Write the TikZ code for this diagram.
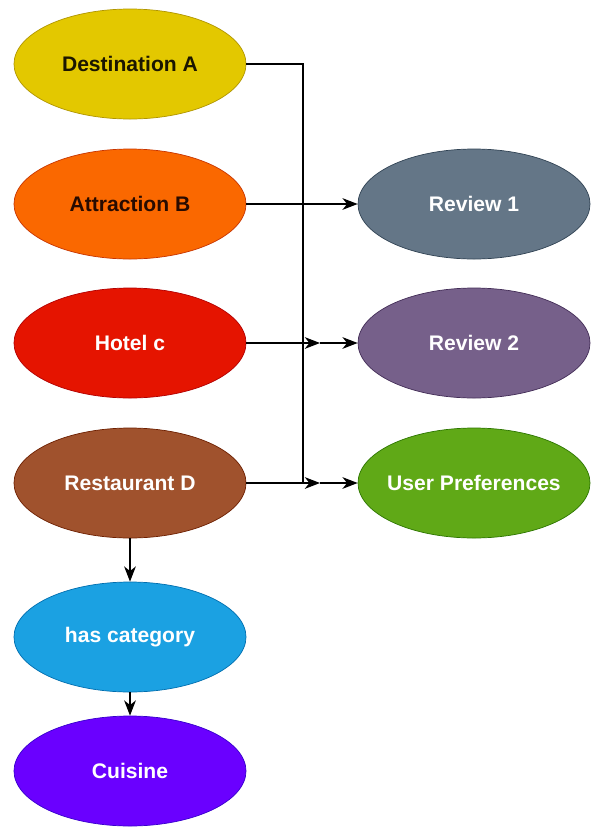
\documentclass[tikz,border=0pt]{standalone}
\usepackage{fontspec}
\setmainfont{Liberation Sans}
\usetikzlibrary{shapes,arrows.meta}

\definecolor{destfill}{HTML}{E3C800}\definecolor{destline}{HTML}{B09500}
\definecolor{attrfill}{HTML}{FA6800}\definecolor{attrline}{HTML}{C73500}
\definecolor{hotelfill}{HTML}{E51400}\definecolor{hotelline}{HTML}{B20000}
\definecolor{restfill}{HTML}{A0522D}\definecolor{restline}{HTML}{6D1F00}
\definecolor{revafill}{HTML}{647687}\definecolor{revaline}{HTML}{314354}
\definecolor{revbfill}{HTML}{76608A}\definecolor{revbline}{HTML}{432D57}
\definecolor{preffill}{HTML}{60A917}\definecolor{prefline}{HTML}{2D7600}
\definecolor{catfill}{HTML}{1BA1E2}\definecolor{catline}{HTML}{006EAF}
\definecolor{cuisfill}{HTML}{6A00FF}\definecolor{cuisline}{HTML}{3700CC}

\tikzset{
	entity/.style={ellipse, draw, line width=0.6pt, minimum width=6.96cm, minimum height=3.3cm,
		inner xsep=-20pt, inner ysep=0pt, font=\fontsize{18}{21}\selectfont\bfseries},
	link/.style={line width=1pt, -{Stealth[length=13pt,width=10pt,inset=4pt]}},
}

\begin{document}
\begin{tikzpicture}[x=0.03cm, y=-0.03cm]
		\useasboundingbox (0,0) rectangle (598,832);
		\node[entity, fill=destfill, draw=destline, text=black!85!destline] (dest) at (130, 64) {Destination A};
		\node[entity, fill=attrfill, draw=attrline, text=black!80!attrline] (attr) at (130, 204) {Attraction B};
		\node[entity, fill=hotelfill, draw=hotelline, text=white] (hotel) at (130, 343) {Hotel c};
		\node[entity, fill=restfill, draw=restline, text=white] (rest) at (130, 483) {Restaurant D};
		\node[entity, fill=catfill, draw=catline, text=white] (cat) at (130, 637) {has category};
		\node[entity, fill=cuisfill, draw=cuisline, text=white] (cuisine) at (130, 771) {Cuisine};
		\node[entity, fill=revafill, draw=revaline, text=white] (review1) at (474, 204) {Review 1};
		\node[entity, fill=revbfill, draw=revbline, text=white] (review2) at (474, 343) {Review 2};
		\node[entity, fill=preffill, draw=prefline, text=white] (prefs) at (474, 483) {User Preferences};
		\coordinate (bus) at (303, 483);
		\coordinate (hotelmid) at (320, 343);
		\coordinate (restmid) at (320, 483);
		\path [draw, line width=1pt] (dest.east) -| (bus);
		\path [draw, link] (attr) -- (review1);
		\path [draw, link] (hotel) -- (hotelmid);
		\path [draw, link] (hotelmid) -- (review2);
		\path [draw, link] (rest) -- (restmid);
		\path [draw, link] (restmid) -- (prefs);
		\path [draw, link] (rest) -- (cat);
		\path [draw, link] (cat) -- (cuisine);
	\end{tikzpicture}
\end{document}
